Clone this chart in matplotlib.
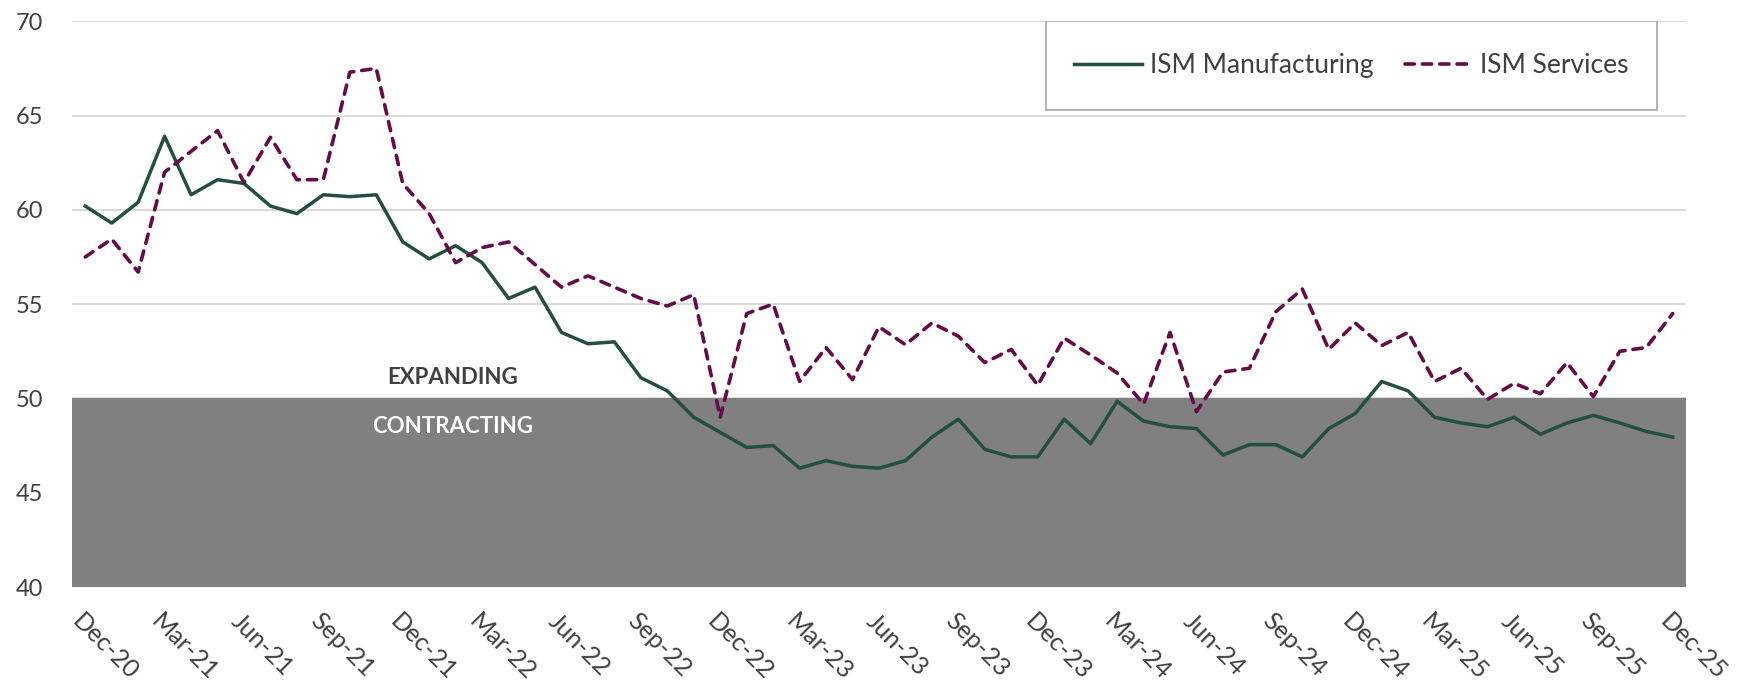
import matplotlib.pyplot as plt
import matplotlib.transforms as mtransforms
from matplotlib.patches import Rectangle

# Dados (mensal, Dez-20 a Dez-25)
manufacturing = [60.2, 59.3, 60.4, 63.9, 60.8, 61.6, 61.4, 60.2, 59.8, 60.8,
                 60.7, 60.8, 58.3, 57.4, 58.1, 57.2, 55.3, 55.9, 53.5, 52.9,
                 53.0, 51.1, 50.4, 49.0, 48.2, 47.4, 47.5, 46.3, 46.7, 46.4,
                 46.3, 46.7, 47.95, 48.9, 47.3, 46.9, 46.9, 48.9, 47.6, 49.85,
                 48.8, 48.5, 48.4, 47.0, 47.55, 47.55, 46.9, 48.4, 49.2, 50.9,
                 50.4, 49.0, 48.7, 48.5, 49.0, 48.1, 48.7, 49.1, 48.7, 48.25,
                 47.95]
services = [57.5, 58.45, 56.7, 62.0, 63.1, 64.2, 61.45, 63.85, 61.6, 61.6,
            67.3, 67.5, 61.4, 59.8, 57.2, 58.0, 58.3, 57.1, 55.9, 56.5,
            55.9, 55.3, 54.9, 55.5, 49.0, 54.5, 55.0, 50.9, 52.7, 51.0,
            53.8, 52.85, 54.0, 53.3, 51.9, 52.6, 50.7, 53.2, 52.3, 51.35,
            49.7, 53.5, 49.3, 51.4, 51.6, 54.6, 55.8, 52.6, 54.0, 52.8,
            53.5, 50.9, 51.6, 49.95, 50.8, 50.25, 51.9, 50.1, 52.5, 52.7,
            54.5]
tick_labels = ['Dec-20', 'Mar-21', 'Jun-21', 'Sep-21', 'Dec-21', 'Mar-22', 'Jun-22',
               'Sep-22', 'Dec-22', 'Mar-23', 'Jun-23', 'Sep-23', 'Dec-23', 'Mar-24',
               'Jun-24', 'Sep-24', 'Dec-24', 'Mar-25', 'Jun-25', 'Sep-25', 'Dec-25']
y_ticks = [40, 45, 50, 55, 60, 65, 70]
threshold = 50

txt_color = '#404040'
green = '#22503c'
purple = '#660a48'

plt.rcParams['font.family'] = ['Lato', 'DejaVu Sans']

fig = plt.figure(figsize=(17.52, 6.84), dpi=100)
ax = fig.add_axes([0.0411, 0.1418, 0.9212, 0.8271])

x = list(range(len(manufacturing)))

# faixa de contração (abaixo de 50)
ax.axhspan(y_ticks[0], threshold, color='#808080', lw=0, zorder=1)

ax.plot(x, manufacturing, color=green, lw=2.5, zorder=3, label='ISM Manufacturing')
ax.plot(x, services, color=purple, lw=2.6, ls=(0, (2.6, 2.2)), dash_capstyle='round',
        zorder=3, label='ISM Services')

ax.set_xlim(-0.5, len(x) - 0.5)
ax.set_ylim(y_ticks[0], y_ticks[-1])
ax.set_yticks(y_ticks)
ax.grid(axis='y', color='#d0d0d0', lw=1.1, zorder=0)
ax.set_axisbelow(True)
for s in ax.spines.values():
    s.set_visible(False)

ax.set_xticks(x[::3])
ax.set_xticklabels(tick_labels, rotation=-45, ha='left', va='top', rotation_mode='anchor')
ax.tick_params(axis='both', length=0, labelcolor=txt_color)
ax.tick_params(axis='y', pad=21, labelsize=17)
ax.tick_params(axis='x', pad=16, labelsize=18)
shift = mtransforms.ScaledTranslation(-0.01, 0, fig.dpi_scale_trans)
for lb in ax.get_xticklabels():
    lb.set_transform(lb.get_transform() + shift)

ax.text(13.9, 51.1, 'EXPANDING', ha='center', va='center', fontsize=16,
        fontweight='bold', color=txt_color, zorder=4)
ax.text(13.9, 48.5, 'CONTRACTING', ha='center', va='center', fontsize=16,
        fontweight='bold', color='white', zorder=4)

# caixa da legenda
ax.add_patch(Rectangle((0.6035, 0.843), 0.3785, 0.157, transform=ax.transAxes,
                       fill=True, facecolor='white', edgecolor='#a6a6a6', lw=1.2, zorder=5))
leg = ax.legend(loc='center', bbox_to_anchor=(0.7927, 0.9219), ncol=2, frameon=False,
                fontsize=19, handlelength=2.6, handletextpad=0.27, columnspacing=1.2)
leg.set_zorder(6)
for t in leg.get_texts():
    t.set_color(txt_color)

fig.savefig('out.png', dpi=100)
